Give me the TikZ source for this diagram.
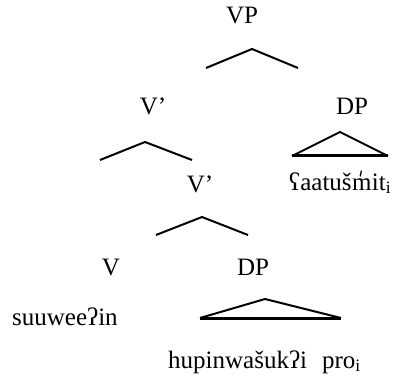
\documentclass[tikz,border=0pt]{standalone}
\usepackage{fontspec}
\setmainfont{Liberation Serif}
\begin{document}
\begin{tikzpicture}[x=1pt,y=-1pt,
  lbl/.style={inner sep=0pt, anchor=base, font=\fontsize{25}{29}\selectfont},
  lblw/.style={lbl, anchor=base west},
  hat/.style={line width=2pt, line join=miter},
  tri/.style={line width=2pt, line join=miter},
  base/.style={line width=3pt},
  glot/.style={line width=1.3pt, line cap=round}]
\useasboundingbox (0,0) rectangle (393,382);
% labels
\node[lbl] (vp) at (242,24) {VP};
\node[lbl] (vbar1) at (153,115) {V’};
\node[lbl] (dp1) at (352,115) {DP};
\node[lbl] (vbar2) at (200,193) {V’};
\node[lblw] (saatA) at (289,190) {ʕaatuš};
\node[lblw] (saatM) at (saatA.base east) {m};
\node[lblw] (saatB) at (saatM.base east) {it\textsubscript{i}};
\draw[glot] ([xshift=-1.5pt,yshift=2pt]saatM.north) -- ([xshift=-0.5pt,yshift=7pt]saatM.north);
\node[lbl] (v) at (111,275) {V};
\node[lbl] (dp2) at (253,275) {DP};
\node[lblw] (suu) at (12,325) {suuweeʔin};
\node[lblw] (hup) at (168,368) {hupinwašukʔi\hspace{0.6em}pro\textsubscript{i}};
% hat under VP
\coordinate (h1l) at (206,68);
\coordinate (h1a) at (252,49);
\coordinate (h1r) at (298,68);
\draw[hat] (h1l) -- (h1a) -- (h1r);
% hat under upper V'
\coordinate (h2l) at (100,160);
\coordinate (h2a) at (145,142);
\coordinate (h2r) at (192,160);
\draw[hat] (h2l) -- (h2a) -- (h2r);
% hat under lower V'
\coordinate (h3l) at (156,235);
\coordinate (h3a) at (202,217);
\coordinate (h3r) at (248,235);
\draw[hat] (h3l) -- (h3a) -- (h3r);
% triangle under upper DP
\coordinate (t1l) at (292,156);
\coordinate (t1a) at (340,132);
\coordinate (t1r) at (388,156);
\draw[tri] (t1l) -- (t1a) -- (t1r);
\draw[base] (t1l) -- (t1r);
% triangle under lower DP
\coordinate (t2l) at (200,318);
\coordinate (t2a) at (265,299);
\coordinate (t2r) at (341,318);
\draw[tri] (t2l) -- (t2a) -- (t2r);
\draw[base] (t2l) -- (t2r);
\end{tikzpicture}
\end{document}
